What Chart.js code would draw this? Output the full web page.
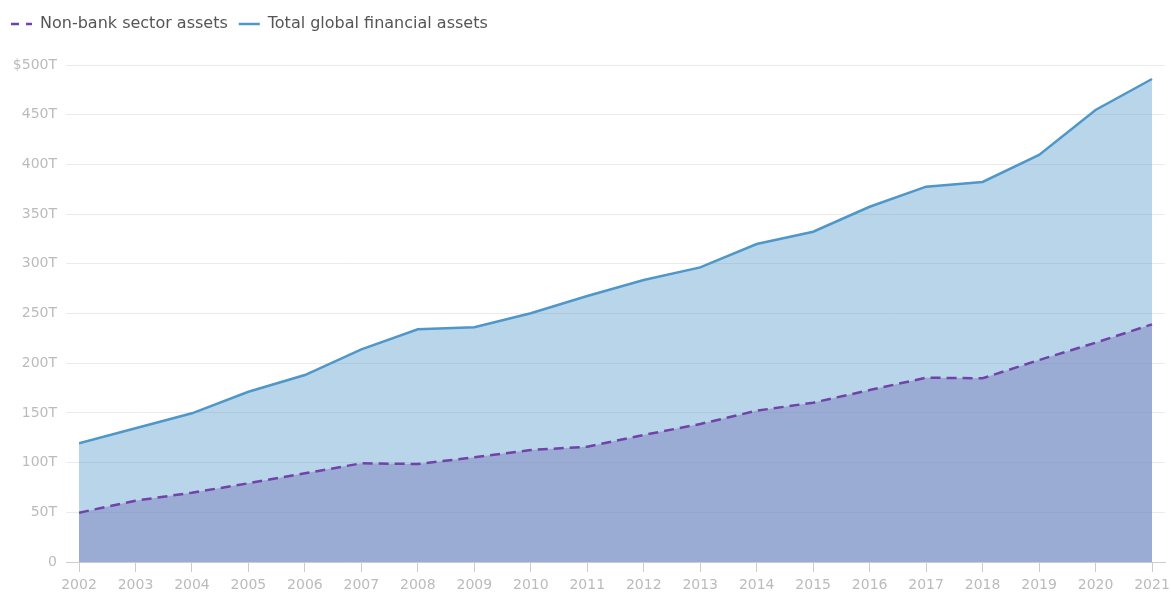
<!DOCTYPE html>
<html>
<head>
<meta charset="utf-8">
<script src="https://cdn.jsdelivr.net/npm/chart.js@4"></script>
<style>
  html, body { margin: 0; padding: 0; background: #fff; }
  #wrap { width: 1171px; height: 592px; }
</style>
</head>
<body>
<div id="wrap"><canvas id="chart"></canvas></div>
<script>
const years = [2002, 2003, 2004, 2005, 2006, 2007, 2008, 2009, 2010, 2011,
  2012, 2013, 2014, 2015, 2016, 2017, 2018, 2019, 2020, 2021];

// trillions of USD
const nonBank = [49.6, 61.7, 69.7, 79.2, 89.2, 99.3, 98.6, 105.3, 112.7, 116,
  127.8, 138.8, 152.2, 160.3, 173, 185.4, 184.8, 203.2, 220.6, 239.1];
const totalAssets = [119.4, 134.5, 149.6, 171.3, 188.1, 213.9, 234.1, 236.1, 250.2, 267.6,
  283.7, 296.4, 319.9, 332.3, 357.4, 377.6, 382.3, 409.5, 454.7, 485.9];

const yTicks = [0, 50, 100, 150, 200, 250, 300, 350, 400, 450, 500];

const FONT = "'DejaVu Sans', sans-serif";

const toPoints = vals => vals.map((v, i) => ({ x: years[i], y: v }));

// push the plot down under the legend
const legendGap = {
  id: "legendGap",
  beforeInit(chart) {
    const fit = chart.legend.fit;
    chart.legend.fit = function () {
      fit.call(this);
      this.height = 60;
    };
  }
};

new Chart(document.getElementById("chart"), {
  type: "line",
  data: {
    datasets: [
      {
        label: "Non-bank sector assets",
        data: toPoints(nonBank),
        borderColor: "#7142a9",
        backgroundColor: "rgba(123,131,191,0.5)",
        borderWidth: 2.5,
        borderDash: [10, 6],
        fill: "origin",
        pointRadius: 0,
        tension: 0
      },
      {
        label: "Total global financial assets",
        data: toPoints(totalAssets),
        borderColor: "#4f97c9",
        backgroundColor: "rgba(79,151,201,0.4)",
        borderWidth: 2.5,
        fill: "origin",
        pointRadius: 0,
        tension: 0
      }
    ]
  },
  options: {
    responsive: true,
    maintainAspectRatio: false,
    animation: false,
    layout: { padding: { top: 5, right: 6, left: 0, bottom: 0 } },
    plugins: {
      tooltip: { enabled: false },
      legend: {
        position: "top",
        align: "start",
        labels: {
          usePointStyle: true,
          pointStyle: "line",
          pointStyleWidth: 21,
          boxWidth: 21,
          padding: 11,
          color: "#555",
          font: { family: FONT, size: 16 },
          generateLabels: chart => chart.data.datasets.map((ds, i) => ({
            text: ds.label,
            datasetIndex: i,
            pointStyle: "line",
            strokeStyle: ds.borderColor,
            fillStyle: ds.borderColor,
            lineWidth: 2.5,
            lineDash: ds.borderDash ? [8, 7] : [],
            fontColor: "#555",
            hidden: false
          }))
        }
      }
    },
    scales: {
      x: {
        type: "linear",
        min: 2002,
        max: 2021.23,
        afterBuildTicks: s => {
          s.ticks = years.map(y => ({ value: y }));
        },
        afterFit: s => {
          s.height = 30;
          s.paddingLeft = 0;
          s.paddingRight = 0;
        },
        ticks: {
          autoSkip: false,
          maxRotation: 0,
          padding: 5,
          color: "#bbb",
          font: { family: FONT, size: 14 },
          callback: v => String(v)
        },
        grid: {
          drawOnChartArea: false,
          drawTicks: true,
          tickLength: 10,
          color: "#ccc"
        },
        border: { display: true, color: "#ccc" }
      },
      y: {
        min: 0,
        max: 500,
        afterBuildTicks: s => {
          s.ticks = yTicks.map(v => ({ value: v }));
        },
        afterFit: s => { s.width = 79; },
        ticks: {
          padding: 9,
          color: "#bbb",
          font: { family: FONT, size: 14 },
          callback: v => v === 500 ? "$500T" : v === 0 ? "0" : v + "T"
        },
        grid: {
          tickLength: 13,
          color: ctx => ctx.tick && ctx.tick.value === 0 ? "#ccc" : "#ebebeb"
        },
        border: { display: false }
      }
    }
  },
  plugins: [legendGap]
});
</script>
</body>
</html>
